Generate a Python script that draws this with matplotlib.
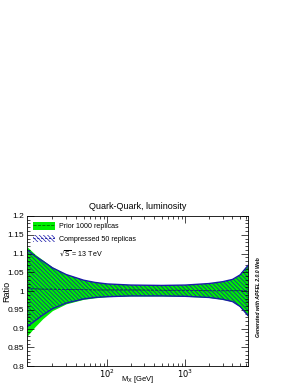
#!/usr/bin/env python3

import matplotlib
matplotlib.use("Agg")
import matplotlib.pyplot as plt
import matplotlib.patches as mpatches
import matplotlib.lines as mlines
from matplotlib.legend_handler import HandlerTuple
from matplotlib.ticker import MultipleLocator, FixedLocator, LogLocator, NullFormatter
import numpy as np

plt.rcParams["font.family"] = ["Liberation Sans", "DejaVu Sans"]
plt.rcParams["hatch.linewidth"] = 0.5

# luminosity ratio bands
mx = [9.5, 12, 15, 20, 30, 50, 70, 100, 200, 500, 1000, 2000, 3000, 4000, 5000, 6300]
prior_up = [1.118, 1.098, 1.083, 1.064, 1.045, 1.030, 1.024, 1.020, 1.017, 1.016,
            1.017, 1.021, 1.026, 1.032, 1.045, 1.070]
prior_lo = [0.880, 0.905, 0.926, 0.948, 0.966, 0.978, 0.982, 0.985, 0.987, 0.987,
            0.986, 0.983, 0.978, 0.972, 0.958, 0.933]
prior_mid = [1.006, 1.006, 1.005, 1.005, 1.004, 1.004, 1.003, 1.003, 1.003, 1.002,
             1.002, 1.001, 1.001, 1.001, 1.001, 1.001]
comp_up = [1.110, 1.093, 1.080, 1.062, 1.044, 1.029, 1.023, 1.019, 1.016, 1.015,
           1.016, 1.020, 1.025, 1.031, 1.043, 1.068]
comp_lo = [0.905, 0.921, 0.936, 0.953, 0.968, 0.979, 0.983, 0.985, 0.987, 0.987,
           0.986, 0.983, 0.978, 0.972, 0.959, 0.935]
comp_mid = prior_mid
xticks = [100, 1000]

green = "#00ee00"
blue = "#1a1aa8"
hatch = "\\\\\\\\\\\\\\\\"

fig = plt.figure(figsize=(2.98, 3.85), dpi=100)
ax = fig.add_axes([0.091, 0.049, 0.741, 0.390])

ax.fill_between(mx, prior_lo, prior_up, color=green, lw=0)
ax.plot(mx, prior_mid, color="#006600", ls="--", lw=0.6)
ax.fill_between(mx, comp_lo, comp_up, facecolor="none", edgecolor=blue,
                hatch=hatch, lw=0)
ax.plot(mx, comp_up, color=blue, lw=1.0)
ax.plot(mx, comp_lo, color=blue, lw=1.0)
ax.plot(mx, comp_mid, color=blue, ls=(0, (2, 2)), lw=0.7)

ax.set_xscale("log")
ax.set_xlim(9.5, 6300)
ax.set_ylim(0.8, 1.2)
ax.yaxis.set_major_locator(MultipleLocator(0.05))
ax.yaxis.set_minor_locator(MultipleLocator(0.01))
ax.xaxis.set_major_locator(FixedLocator(xticks))
ax.xaxis.set_minor_locator(LogLocator(base=10, subs=np.arange(2, 10), numticks=20))
ax.xaxis.set_minor_formatter(NullFormatter())
ax.xaxis.set_major_formatter(plt.FuncFormatter(lambda v, p: r"$10^{%d}$" % round(np.log10(v))))
ax.yaxis.set_major_formatter(plt.FuncFormatter(lambda v, p: "%g" % round(v, 2)))
ax.tick_params(which="both", direction="in", top=True, right=True,
               labelsize=6, width=0.5, pad=2)
ax.tick_params(axis="x", pad=1)
ax.tick_params(which="major", length=5)
ax.tick_params(which="minor", length=2.5)
for s in ax.spines.values():
    s.set_linewidth(0.6)

ax.set_title("Quark-Quark, luminosity", fontsize=6.5, pad=5)
ax.set_xlabel(r"M$_{\rm X}$ [GeV]", fontsize=5.5)
ax.xaxis.set_label_coords(0.5, -0.055)
ax.set_ylabel("Ratio", fontsize=6.5)
ax.yaxis.set_label_coords(-0.07, 0.5)

h_prior = (mpatches.Patch(facecolor=green, edgecolor="none"),
           mlines.Line2D([], [], color="#006600", ls="--", lw=0.6))
h_comp = (mpatches.Patch(facecolor="none", edgecolor=blue, hatch=hatch, lw=0),
          mlines.Line2D([], [], color=blue, ls=(0, (2, 2)), lw=0.7))
h_sqrt = mpatches.Patch(visible=False)
ax.legend([h_prior, h_comp, h_sqrt],
          ["Prior 1000 replicas", "Compressed 50 replicas", r"$\sqrt{\rm S}$ = 13 TeV"],
          handler_map={tuple: HandlerTuple(ndivide=1, pad=0)},
          loc="upper left", fontsize=5.1, frameon=False, handlelength=3.0,
          handleheight=1.2, labelspacing=0.65, borderaxespad=0.5, handletextpad=0.6,
          borderpad=0.4)

fig.text(0.866, 0.229, "Generated with APFEL 2.0.0 Web", rotation=90,
         fontsize=3.7, style="italic", fontweight="bold", ha="center", va="center")

fig.savefig("out.png", dpi=100)
